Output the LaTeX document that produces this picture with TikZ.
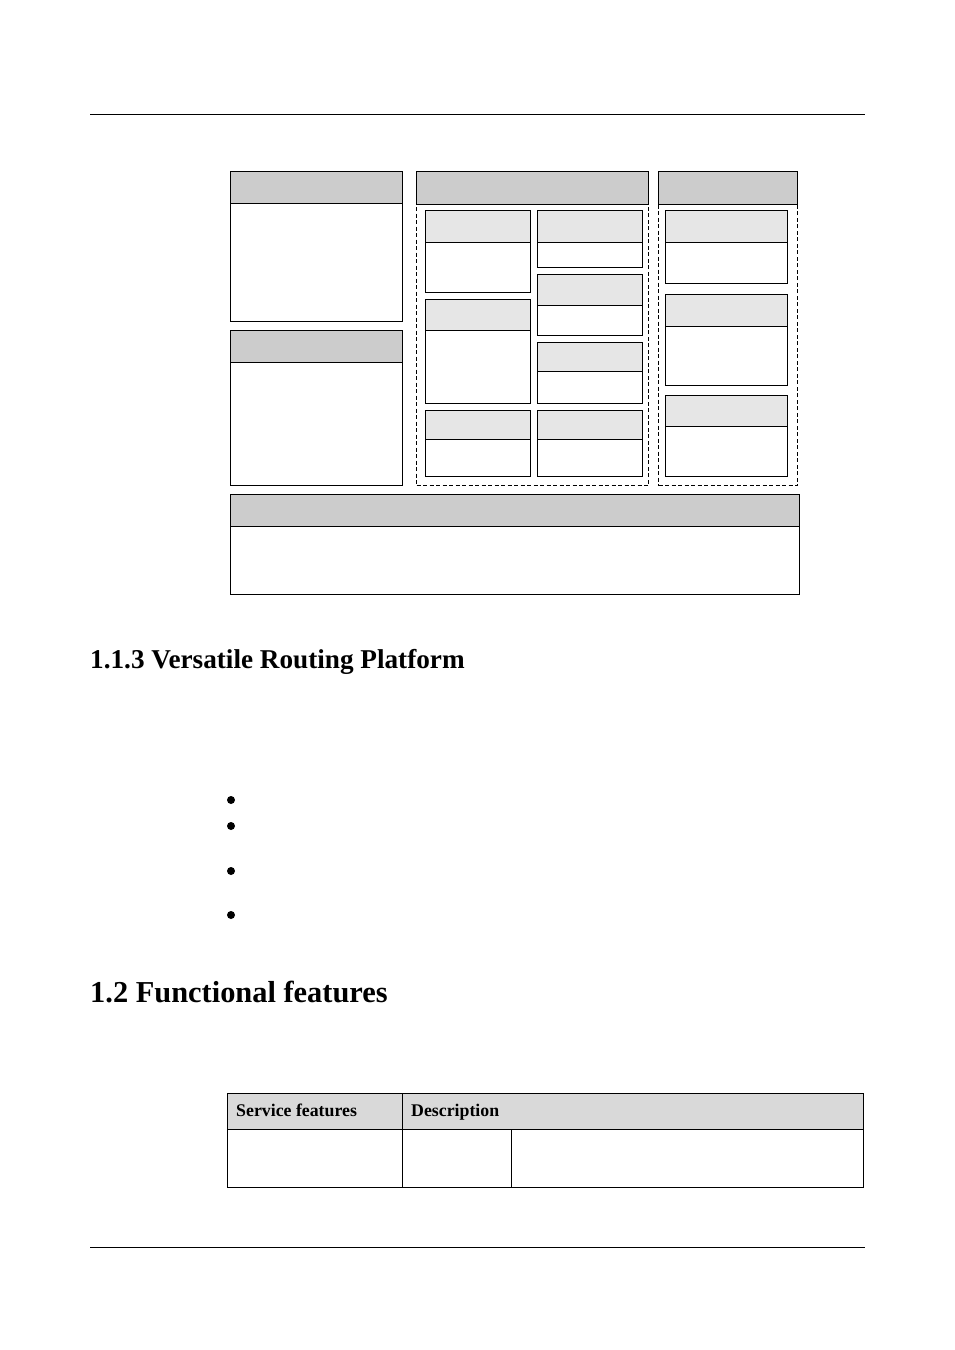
\documentclass[tikz,border=0pt]{standalone}
\usepackage{fontspec}
\setmainfont{Liberation Serif}
\definecolor{hdrdark}{HTML}{CCCCCC}
\definecolor{hdrlight}{HTML}{E6E6E6}
\definecolor{tblhdr}{HTML}{D9D9D9}
\tikzset{
  x=1pt,y=-1pt,
  cell/.style={draw=black,line width=1pt,rectangle,inner sep=0pt,outer sep=0pt,anchor=north west},
  rulerline/.style={draw=black,line width=1pt},
  dashbox/.style={cell,dash pattern=on 4pt off 2.5pt},
  dot/.style={circle,fill=black,inner sep=0pt,minimum size=8pt},
  heading/.style={anchor=base west,inner sep=0pt,font=\bfseries},
  tbltext/.style={anchor=base west,inner sep=0pt,font=\bfseries\fontsize{17.8}{20}\selectfont},
}
% name, x0, y0, x1, y-header-bottom, y1, header colour
\newcommand{\panel}[7]{%
  \node[cell,minimum width=#4pt-#2pt,minimum height=#6pt-#3pt] (#1) at (#2,#3) {};
  \node[cell,fill=#7,minimum width=#4pt-#2pt,minimum height=#5pt-#3pt] (#1h) at (#2,#3) {};
}
\begin{document}
\begin{tikzpicture}
\useasboundingbox (0,0) rectangle (954,1350);
\fill[white] (0,0) rectangle (954,1350);
\coordinate (rt1) at (90,114); \coordinate (rt2) at (864.5,114);
\draw[rulerline] (rt1) -- (rt2);
\coordinate (rb1) at (90,1247); \coordinate (rb2) at (864.5,1247);
\draw[rulerline] (rb1) -- (rb2);

\panel{lefttop}{230.5}{171.5}{402.5}{203.5}{321.5}{hdrdark}
\panel{leftbot}{230.5}{330.5}{402.5}{362.5}{485.5}{hdrdark}

\node[dashbox,minimum width=232pt,minimum height=281pt] (middash) at (416.5,204.5) {};
\node[cell,fill=hdrdark,minimum width=232pt,minimum height=33pt] (midh) at (416.5,171.5) {};
\node[dashbox,minimum width=139pt,minimum height=281pt] (rightdash) at (658.5,204.5) {};
\node[cell,fill=hdrdark,minimum width=139pt,minimum height=33pt] (righth) at (658.5,171.5) {};

\panel{a1}{425.5}{210.5}{530.5}{242.5}{292.5}{hdrlight}
\panel{a2}{425.5}{299.5}{530.5}{330.5}{403.5}{hdrlight}
\panel{a3}{425.5}{410.5}{530.5}{439.5}{476.5}{hdrlight}
\panel{b1}{537.5}{210.5}{642.5}{242.5}{267.5}{hdrlight}
\panel{b2}{537.5}{274.5}{642.5}{305.5}{335.5}{hdrlight}
\panel{b3}{537.5}{342.5}{642.5}{371.5}{403.5}{hdrlight}
\panel{b4}{537.5}{410.5}{642.5}{439.5}{476.5}{hdrlight}
\panel{c1}{665.5}{210.5}{787.5}{242.5}{283.5}{hdrlight}
\panel{c2}{665.5}{294.5}{787.5}{326.5}{385.5}{hdrlight}
\panel{c3}{665.5}{395.5}{787.5}{426.5}{476.5}{hdrlight}

\panel{bottom}{230.5}{494.5}{799.5}{526.5}{594.5}{hdrdark}

\node[heading,font=\bfseries\fontsize{27.2}{30}\selectfont] (h113) at (90,668) {1.1.3 Versatile Routing Platform};
\node[heading,font=\bfseries\fontsize{30.4}{34}\selectfont] (h12) at (90,1002) {1.2 Functional features};

\node[dot] (d1) at (231,800) {};
\node[dot] (d2) at (231,826) {};
\node[dot] (d3) at (231,871) {};
\node[dot] (d4) at (231,915) {};

\node[cell,fill=tblhdr,minimum width=175pt,minimum height=36pt] (th1) at (227.5,1093.5) {};
\node[cell,fill=tblhdr,minimum width=461pt,minimum height=36pt] (th2) at (402.5,1093.5) {};
\node[cell,minimum width=175pt,minimum height=58pt] (td1) at (227.5,1129.5) {};
\node[cell,minimum width=109pt,minimum height=58pt] (td2) at (402.5,1129.5) {};
\node[cell,minimum width=352pt,minimum height=58pt] (td3) at (511.5,1129.5) {};
\node[tbltext] (t1) at (236,1116) {Service features};
\node[tbltext] (t2) at (411,1116) {Description};
\end{tikzpicture}
\end{document}
